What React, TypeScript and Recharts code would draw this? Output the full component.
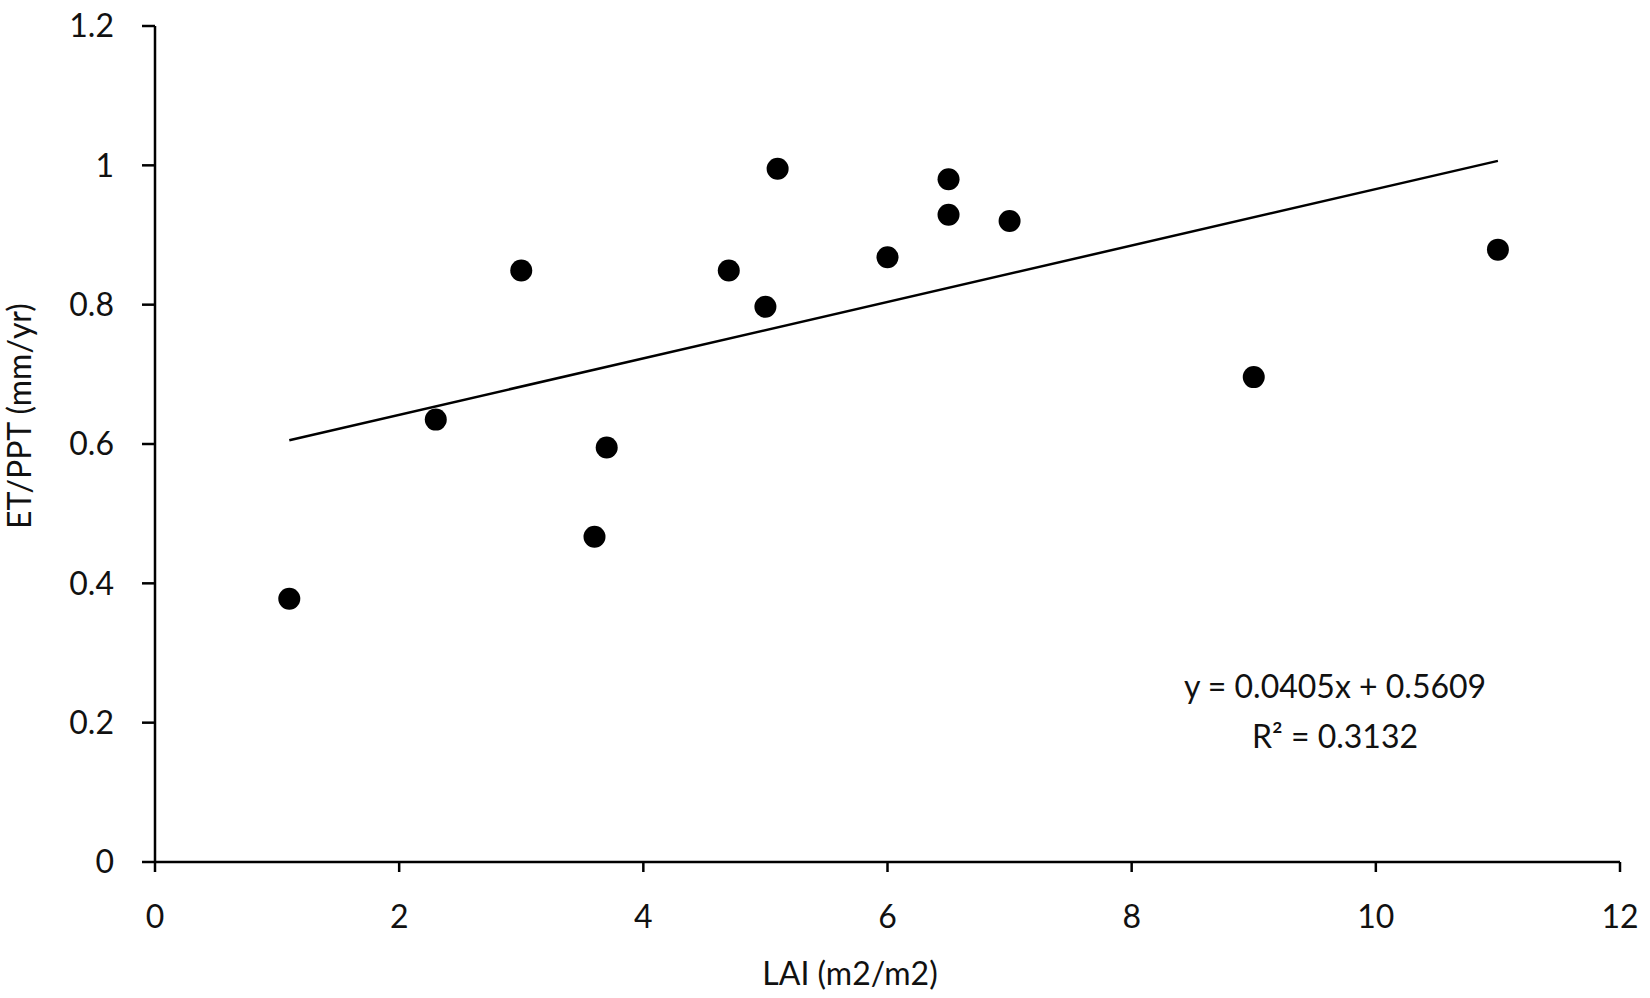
import React from 'react';
import { ScatterChart, Scatter, XAxis, YAxis } from 'recharts';

const laiValues = [1.1, 2.3, 3.0, 3.6, 3.7, 4.7, 5.0, 5.1, 6.0, 6.5, 6.5, 7.0, 9.0, 11.0];
const ratioValues = [0.378, 0.635, 0.849, 0.467, 0.595, 0.849, 0.797, 0.995, 0.868, 0.98, 0.929, 0.92, 0.696, 0.879];
const xTicks = [0, 2, 4, 6, 8, 10, 12];
const yTicks = [0, 0.2, 0.4, 0.6, 0.8, 1, 1.2];
const slope = 0.0405;
const intercept = 0.5609;
const trendX = [1.1, 11.0];

const FONT = 'Lato, "Open Sans", sans-serif';

const points = laiValues.map((x, i) => ({ x, y: ratioValues[i] }));
const trend = trendX.map(x => ({ x, y: slope * x + intercept }));

const tickStyle = { fontSize: 32, fill: '#111', fontFamily: FONT };

export default function App() {
  return (
    <div style={{ position: 'absolute', left: 0, top: 0, width: 1650, height: 998, background: '#fff', fontFamily: FONT }}>
      <ScatterChart width={1650} height={998} margin={{ top: 26, right: 30, bottom: 0, left: 0 }}>
        <XAxis
          type="number" dataKey="x" domain={[0, 12]} ticks={xTicks} height={136}
          axisLine={{ stroke: '#000', strokeWidth: 2.5 }} tickLine={{ stroke: '#000', strokeWidth: 2.5 }}
          tickSize={10} tickMargin={33} tick={tickStyle} allowDataOverflow
        />
        <YAxis
          type="number" dataKey="y" domain={[0, 1.2]} ticks={yTicks} width={155}
          axisLine={{ stroke: '#000', strokeWidth: 2.5 }} tickLine={{ stroke: '#000', strokeWidth: 2.5 }}
          tickSize={13} tickMargin={28} tick={tickStyle} allowDataOverflow
        />
        <Scatter data={points} fill="#000" isAnimationActive={false}
          shape={(p: any) => <circle cx={p.cx} cy={p.cy} r={11} fill="#000" />} />
        <Scatter data={trend} line={{ stroke: '#000', strokeWidth: 2.5 }} isAnimationActive={false}
          shape={() => null} />
      </ScatterChart>
      <div style={{ position: 'absolute', left: 850, top: 972, transform: 'translate(-50%, -50%)', fontSize: 32, color: '#111', whiteSpace: 'nowrap' }}>
        LAI (m2/m2)
      </div>
      <div style={{ position: 'absolute', left: 18, top: 416, transform: 'translate(-50%, -50%) rotate(-90deg)', fontSize: 32, color: '#111', whiteSpace: 'nowrap' }}>
        ET/PPT (mm/yr)
      </div>
      <div style={{ position: 'absolute', left: 1335, top: 711, transform: 'translate(-50%, -50%)', fontSize: 32, color: '#111', textAlign: 'center', lineHeight: '50px', whiteSpace: 'nowrap' }}>
        <div>y = 0.0405x + 0.5609</div>
        <div>R² = 0.3132</div>
      </div>
    </div>
  );
}
